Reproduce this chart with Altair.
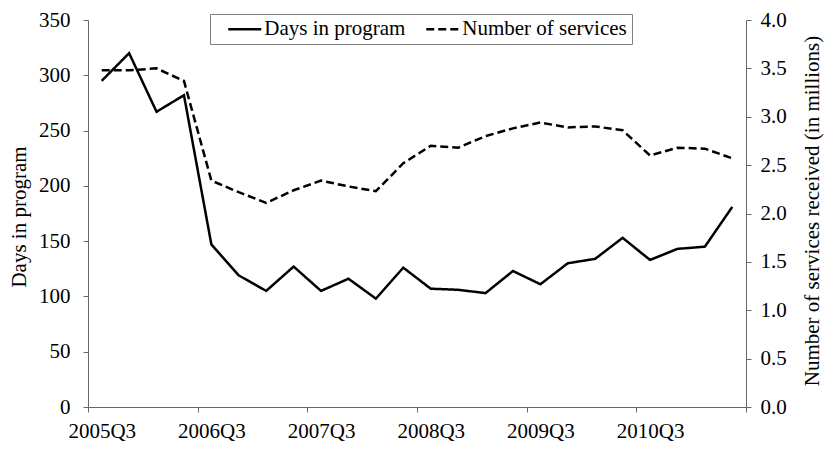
import json
import altair as alt
import pandas as pd

quarters = ["2005Q3", "2005Q4", "2006Q1", "2006Q2", "2006Q3", "2006Q4", "2007Q1", "2007Q2",
            "2007Q3", "2007Q4", "2008Q1", "2008Q2", "2008Q3", "2008Q4", "2009Q1", "2009Q2",
            "2009Q3", "2009Q4", "2010Q1", "2010Q2", "2010Q3", "2010Q4", "2011Q1", "2011Q2"]
days_in_program = [295, 320, 267, 282, 147, 119, 105, 127, 105, 116, 98, 126,
                   107, 106, 103, 123, 111, 130, 134, 153, 133, 143, 145, 181]
services_millions = [3.48, 3.48, 3.50, 3.37, 2.34, 2.22, 2.11, 2.24, 2.34, 2.28, 2.23, 2.52,
                     2.70, 2.68, 2.80, 2.88, 2.94, 2.89, 2.90, 2.86, 2.60, 2.68, 2.67, 2.57]
series_names = ["Days in program", "Number of services"]
label_quarters = quarters[::4]
left_ticks = [0, 50, 100, 150, 200, 250, 300, 350]
right_ticks = [0, 0.5, 1.0, 1.5, 2.0, 2.5, 3.0, 3.5, 4.0]

rows = []
for i, q in enumerate(quarters):
    rows.append({"quarter": q, "pos": i + 0.5, "series": series_names[0], "value": days_in_program[i]})
    rows.append({"quarter": q, "pos": i + 0.5, "series": series_names[1], "value": services_millions[i]})
df = pd.DataFrame(rows)

FONT = "Times New Roman, Liberation Serif, serif"
AX = "#666666"
W, H = 658, 387
n = len(quarters)

label_expr = "datum.value < %d ? %s[datum.value / 4] : ''" % (n, json.dumps(label_quarters))

x_enc = alt.X(
    "pos:Q",
    scale=alt.Scale(domain=[0, n], nice=False, zero=False),
    axis=alt.Axis(values=list(range(0, n + 1, 4)), labelExpr=label_expr,
                  labelOffset=W / n / 2, labelFlush=False, title=None, grid=False,
                  tickSize=5, labelPadding=8, labelFont=FONT, labelFontSize=21,
                  labelColor="black", domainColor=AX, tickColor=AX),
)

dash = alt.StrokeDash(
    "series:N",
    scale=alt.Scale(domain=series_names, range=[[1, 0], [8, 4]]),
    legend=alt.Legend(title=None, orient="none", legendX=122, legendY=-6,
                      direction="horizontal", strokeColor="#808080", fillColor="white",
                      padding=4.5, symbolType="M-2,0H2", symbolSize=272,
                      symbolStrokeWidth=2.5, symbolStrokeColor="black",
                      symbolFillColor="transparent",
                      labelFont=FONT, labelFontSize=21, labelColor="black",
                      columnPadding=7, labelOffset=9, symbolOffset=19.75, labelLimit=0),
)

days_layer = alt.Chart(df).transform_filter(
    alt.datum.series == series_names[0]
).mark_line(color="black", strokeWidth=2.5).encode(
    x=x_enc,
    y=alt.Y("value:Q", scale=alt.Scale(domain=[0, 350], nice=False),
            axis=alt.Axis(orient="left", values=left_ticks, title="Days in program",
                          grid=False, tickSize=5, labelPadding=13, labelFont=FONT,
                          labelFontSize=21, labelColor="black", titleFont=FONT,
                          titleFontSize=21, titleFontWeight="normal", titleColor="black",
                          titleAngle=270, titleAlign="center", titleBaseline="middle",
                          titleX=-69, titleY=H / 2 + 3, domainColor=AX, tickColor=AX)),
    strokeDash=dash,
)

serv_layer = alt.Chart(df).transform_filter(
    alt.datum.series == series_names[1]
).mark_line(color="black", strokeWidth=2.5).encode(
    x=x_enc,
    y=alt.Y("value:Q", scale=alt.Scale(domain=[0, 4], nice=False),
            axis=alt.Axis(orient="right", values=right_ticks, format=".1f",
                          title="Number of services received (in millions)",
                          grid=False, tickSize=5, labelPadding=9, labelFont=FONT,
                          labelFontSize=21, labelColor="black", titleFont=FONT,
                          titleFontSize=21, titleFontWeight="normal", titleColor="black",
                          titleAngle=270, titleAlign="center", titleBaseline="middle",
                          titleX=66, titleY=H / 2 - 3, domainColor=AX, tickColor=AX)),
    strokeDash=dash,
)

chart = alt.layer(days_layer, serv_layer).resolve_scale(y="independent").properties(
    width=W, height=H,
    autosize=alt.AutoSizeParams(type="none"),
    padding={"left": 80, "top": 12, "right": 78, "bottom": 34},
    background="white",
).configure_view(stroke=None)

chart.save("out.html", embed_options={"renderer": "svg", "actions": False})
